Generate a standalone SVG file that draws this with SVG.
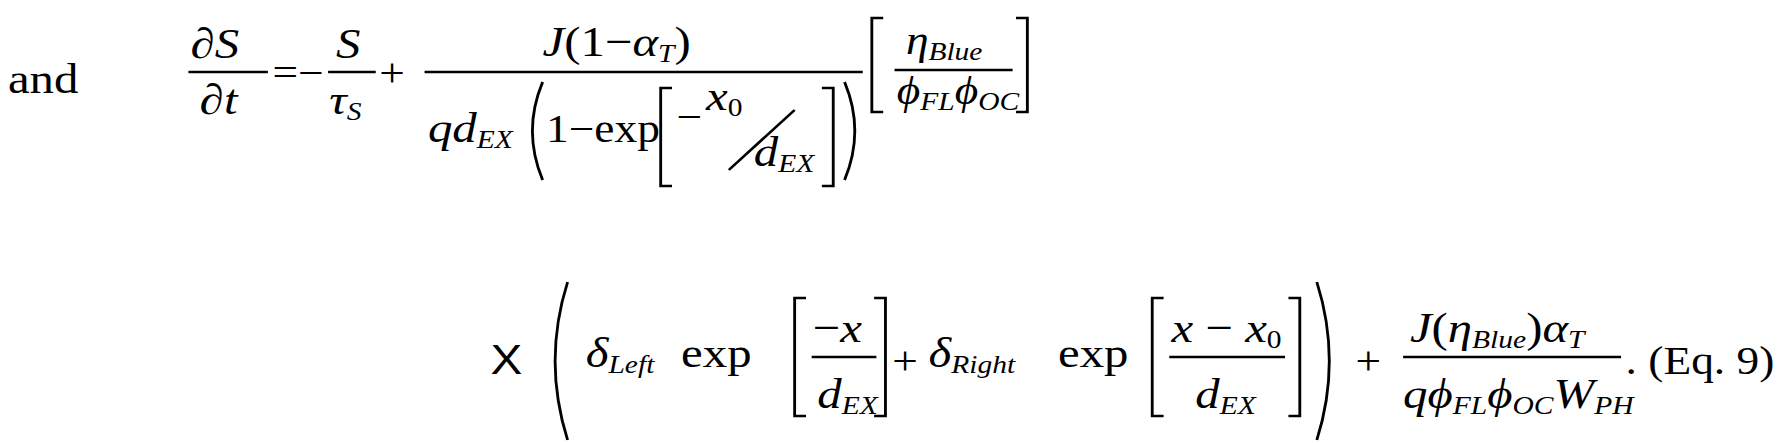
<svg xmlns="http://www.w3.org/2000/svg" width="1780" height="443" viewBox="0 0 1780 443">
<style>
text{font-family:"Liberation Serif",serif;font-size:43px;fill:#000}
.i{font-style:italic}
.s{font-size:26px}
.m{font-size:40px}
.b{stroke:#000;stroke-width:2.5;fill:none}
</style>
<rect width="1780" height="443" fill="#fff"/>
<g transform="scale(1.1352,1)">
<g id="line1">
<text x="7" y="93">and</text>
<text x="168" y="58">∂<tspan class="i">S</tspan></text>
<line class="b" x1="166" y1="72" x2="236" y2="72"/>
<text x="176" y="114">∂<tspan class="i">t</tspan></text>
<text x="240" y="86" class="m">=−</text>
<text x="296" y="58" class="i">S</text>
<line class="b" x1="289" y1="72" x2="331" y2="72"/>
<text x="290" y="114" class="i">τ<tspan class="s" dy="6">S</tspan></text>
<text x="334" y="86" class="m">+</text>
<text x="478" y="56"><tspan class="i">J</tspan>(1−<tspan class="i">α</tspan><tspan class="s i" dy="6">T</tspan><tspan dy="-6">)</tspan></text>
<line class="b" x1="374" y1="72" x2="760" y2="72"/>
<text x="377" y="142"><tspan class="i">qd</tspan><tspan class="s i" dy="6">EX</tspan></text>
<path class="b" d="M478 82 Q460 131 478 180"/>
<text x="481" y="142" class="m">1−exp</text>
<path class="b" d="M592 88 H582 V186 H592"/>
<text x="596" y="130" class="m">−</text>
<text x="622" y="110" class="i">x<tspan class="s" dy="6" style="font-style:normal">0</tspan></text>
<path class="b" d="M642 170 L700 110"/>
<text x="664" y="166" class="i">d<tspan class="s" dy="6">EX</tspan></text>
<path class="b" d="M724 88 H734 V186 H724"/>
<path class="b" d="M744 82 Q762 131 744 180"/>
<path class="b" d="M778 18 H768 V112 H778"/>
<text x="798" y="54" class="i m">η<tspan class="s" dy="6">Blue</tspan></text>
<line class="b" x1="788" y1="70" x2="892" y2="70"/>
<text x="790" y="104" class="i m">ϕ<tspan class="s" dy="6">FL</tspan><tspan dy="-6">ϕ</tspan><tspan class="s" dy="6">OC</tspan></text>
<path class="b" d="M895 18 H905 V112 H895"/>
</g>
<g id="line2">
<text x="432" y="374" style="font-family:'Liberation Sans',sans-serif;font-size:42px">X</text>
<path class="b" d="M500 282 Q478 361 500 440"/>
<text x="516" y="367" class="i">δ<tspan class="s" dy="6">Left</tspan></text>
<text x="600" y="367">exp</text>
<path class="b" d="M710 298 H700 V416 H710"/>
<text x="716" y="342">−<tspan class="i">x</tspan></text>
<line class="b" x1="715" y1="357" x2="772" y2="357"/>
<text x="720" y="408" class="i">d<tspan class="s" dy="6">EX</tspan></text>
<path class="b" d="M770 298 H780 V416 H770"/>
<text x="786" y="374" class="m">+</text>
<text x="818" y="367" class="i">δ<tspan class="s" dy="6">Right</tspan></text>
<text x="932" y="367">exp</text>
<path class="b" d="M1025 298 H1015 V416 H1025"/>
<text x="1032" y="342"><tspan class="i">x</tspan> − <tspan class="i">x</tspan><tspan class="s" dy="6">0</tspan></text>
<line class="b" x1="1030" y1="357" x2="1132" y2="357"/>
<text x="1053" y="408" class="i">d<tspan class="s" dy="6">EX</tspan></text>
<path class="b" d="M1135 298 H1145 V416 H1135"/>
<path class="b" d="M1160 282 Q1182 361 1160 440"/>
<text x="1194" y="374" class="m">+</text>
<text x="1242" y="342"><tspan class="i">J</tspan>(<tspan class="i">η</tspan><tspan class="s i" dy="6">Blue</tspan><tspan dy="-6">)</tspan><tspan class="i">α</tspan><tspan class="s i" dy="6">T</tspan></text>
<line class="b" x1="1236" y1="357" x2="1428" y2="357"/>
<text x="1236" y="408" class="i">q<tspan>ϕ</tspan><tspan class="s" dy="6">FL</tspan><tspan dy="-6">ϕ</tspan><tspan class="s" dy="6">OC</tspan><tspan dy="-6">W</tspan><tspan class="s" dy="6">PH</tspan></text>
<text x="1432" y="374" class="m">.  (Eq. 9)</text>
</g>
</g>
</svg>
